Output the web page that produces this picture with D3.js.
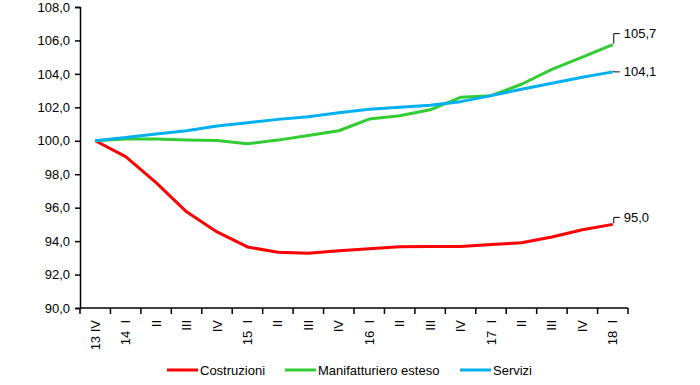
<!DOCTYPE html>
<html>
<head>
<meta charset="utf-8">
<script src="https://cdn.jsdelivr.net/npm/d3@7"></script>
<style>
  body { margin: 0; background: #fff; }
  svg text { font-family: "Liberation Sans", Arial, sans-serif; fill: #000; }
</style>
</head>
<body>
<div id="chart"></div>
<script>
const quarters = ['13 IV', '14  I', 'II', 'III', 'IV', '15  I', 'II', 'III', 'IV',
                  '16  I', 'II', 'III', 'IV', '17  I', 'II', 'III', 'IV', '18  I']

const costruzioni = [100.0, 99.05, 97.5, 95.75, 94.55, 93.65, 93.33, 93.27, 93.42,
                     93.55, 93.67, 93.68, 93.68, 93.8, 93.9, 94.25, 94.68, 95.0]
const manifatturiero = [100.0, 100.1, 100.1, 100.05, 100.02, 99.82, 100.04, 100.32, 100.6,
                        101.3, 101.5, 101.85, 102.6, 102.7, 103.38, 104.27, 105.0, 105.75]
const servizi = [100.0, 100.2, 100.4, 100.6, 100.88, 101.08, 101.28, 101.44, 101.68,
                 101.88, 102.0, 102.12, 102.34, 102.7, 103.08, 103.44, 103.8, 104.12]

const seriesNames = ['Costruzioni', 'Manifatturiero esteso', 'Servizi']
const seriesColors = ['#ff0000', '#33cc33', '#00b0f0']
const endLabels = ['95,0', '105,7', '104,1']
const yTicks = [90, 92, 94, 96, 98, 100, 102, 104, 106, 108]

const W = 700, H = 385
const svg = d3.select('#chart').append('svg')
  .attr('width', W).attr('height', H)

const x = d3.scaleBand().domain(d3.range(quarters.length)).range([80, 628])
const y = d3.scaleLinear().domain([90, 108]).range([308, 7])
const fmt = v => d3.format('.1f')(v).replace('.', ',')

// y axis
const yAxis = svg.append('g')
  .attr('transform', 'translate(80,0)')
  .call(d3.axisLeft(y).tickValues(yTicks).tickFormat(fmt).tickSize(5).tickPadding(5))
yAxis.select('.domain').attr('stroke', '#000').attr('stroke-width', 1.5)
yAxis.selectAll('.tick line').attr('stroke', '#000').attr('stroke-width', 1.5)
yAxis.selectAll('text').style('font-size', '13px').attr('font-family', null)

// x axis: ticks at band edges, labels rotated at band centres
const xg = svg.append('g').attr('transform', 'translate(0,308)')
xg.append('line')
  .attr('x1', 80).attr('x2', 628)
  .attr('stroke', '#000').attr('stroke-width', 1.5)
xg.selectAll('line.tk')
  .data(d3.range(quarters.length + 1))
  .enter().append('line')
  .attr('class', 'tk')
  .attr('x1', i => 80 + i * x.step()).attr('x2', i => 80 + i * x.step())
  .attr('y1', 0).attr('y2', 6)
  .attr('stroke', '#000').attr('stroke-width', 1.5)
xg.selectAll('text')
  .data(quarters)
  .enter().append('text')
  .attr('transform', (d, i) => 'translate(' + (x(i) + x.bandwidth() / 2 + 4.5) + ',12) rotate(-90)')
  .attr('text-anchor', 'end')
  .style('white-space', 'pre')
  .style('font-size', '13px')
  .text(d => d)

// lines
const line = d3.line()
  .x((d, i) => x(i) + x.bandwidth() / 2)
  .y(d => y(d))

const allSeries = [costruzioni, manifatturiero, servizi]
svg.selectAll('path.series')
  .data(allSeries)
  .enter().append('path')
  .attr('class', 'series')
  .attr('d', line)
  .attr('fill', 'none')
  .attr('stroke', (d, i) => seriesColors[i])
  .attr('stroke-width', 3)
  .attr('stroke-linejoin', 'round')

// end labels with small leader lines
const lastX = x(quarters.length - 1) + x.bandwidth() / 2 + 1
const labelDy = [-7, -11, 0]
allSeries.forEach((s, i) => {
  const py = y(s[s.length - 1])
  const ty = py + labelDy[i]
  svg.append('path')
    .attr('d', 'M' + lastX + ',' + (py - 1) + 'V' + ty + 'H' + (lastX + 6))
    .attr('fill', 'none').attr('stroke', '#000').attr('stroke-width', 1)
  svg.append('text')
    .attr('x', lastX + 10).attr('y', ty + 4.5)
    .style('font-size', '13px')
    .text(endLabels[i])
})

// legend
const legendX = [167, 285, 460]
const lg = svg.selectAll('g.legend')
  .data(seriesNames)
  .enter().append('g')
  .attr('class', 'legend')
  .attr('transform', (d, i) => 'translate(' + legendX[i] + ',370)')
lg.append('line')
  .attr('x1', 0).attr('x2', 31)
  .attr('stroke', (d, i) => seriesColors[i]).attr('stroke-width', 3)
lg.append('text')
  .attr('x', 33).attr('y', 4.5)
  .style('font-size', '13px')
  .text(d => d)
</script>
</body>
</html>
